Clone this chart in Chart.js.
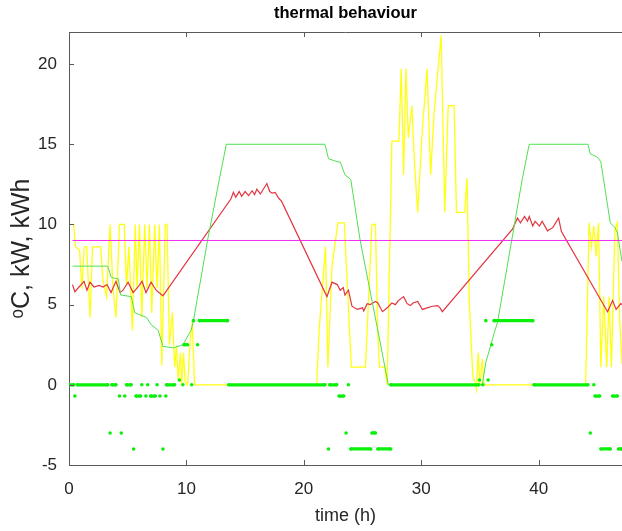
<!DOCTYPE html>
<html>
<head>
<meta charset="utf-8">
<title>thermal behaviour</title>
<script src="https://cdn.jsdelivr.net/npm/chart.js@4.4.0/dist/chart.umd.min.js"></script>
<style>
  html, body { margin: 0; padding: 0; background: #fff; }
  #wrap { width: 622px; height: 531px; }
</style>
</head>
<body>
<div id="wrap"><canvas id="chart" width="622" height="531"></canvas></div>
<script>
// axis ticks
const xTicks = [0, 10, 20, 30, 40];
const yTicks = [-5, 0, 5, 10, 15, 20];

// yellow: [time h, kW]
const heatPower = [
  [0.25, 10], [0.4, 10], [0.55, 8.6], [0.9, 8.4], [1.1, 6.0], [1.3, 8.6], [1.5, 8.6], [1.8, 4.2],
  [2.0, 8.6], [2.7, 8.6], [2.9, 6.5], [3.2, 5.5], [3.5, 10], [3.75, 6.0], [4.0, 4.2], [4.3, 10],
  [4.7, 10], [4.9, 6.2], [5.1, 8.6], [5.4, 3.4], [5.65, 10], [5.8, 6.0], [6.0, 10], [6.2, 4.2],
  [6.45, 10], [6.65, 6.0], [6.85, 10], [7.05, 4.5], [7.3, 10], [7.5, 6.0], [7.7, 10], [7.9, 1.2],
  [8.2, 10], [8.35, 10], [8.55, 2.5], [8.8, 4.5], [9.0, 1.1], [9.15, 2.4], [9.3, 0.3], [9.5, 2.0],
  [9.6, 0], [9.75, 2.0], [9.9, 0.2], [10.1, 0], [10.35, 3.0], [10.5, 3.9], [10.7, 0],
  [21.1, 0], [21.3, 3.4], [21.85, 8.6], [22.05, 1.1], [22.4, 7.4], [22.9, 10.1], [23.45, 10.1],
  [24.05, 1.1], [25.25, 1.1], [25.8, 10], [26.1, 10], [26.3, 3.2], [26.45, 1.1], [26.9, 1.1],
  [27.1, 0], [27.5, 15.2], [28.1, 15.2], [28.3, 19.7], [28.5, 13.1], [28.7, 19.7], [28.9, 15.4],
  [29.2, 17.4], [29.45, 13.5], [29.7, 10.75], [30.1, 16], [30.5, 19.7], [30.8, 13.1], [31.1, 17],
  [31.7, 21.8], [32.0, 10.75], [32.3, 17.4], [32.8, 17.4], [33.0, 10.75], [33.7, 10.75], [33.9, 12.9],
  [34.1, 5], [34.4, 0.5], [34.6, 0.1], [34.7, -0.3], [34.85, 2.0], [35.0, 0], [35.2, 1.6], [35.35, 0],
  [44.0, 0], [44.3, 10.1], [44.5, 8.6], [44.7, 9.9], [44.9, 8.0], [45.1, 10.1], [45.3, 1.1],
  [45.55, 5.5], [45.8, 1.1], [46.0, 5.5], [46.2, 1.1], [46.5, 9.7], [46.7, 10.1], [46.9, 4.0], [47.1, 1.3]
];

// red: [time h, oC]
const roomTemp = [
  [0.3, 6.25], [0.5, 5.8], [0.85, 6.1], [1.28, 6.45], [1.53, 5.9], [1.79, 6.4], [2.13, 6.1], [2.56, 6.2],
  [2.9, 6.1], [3.24, 6.25], [3.58, 5.75], [4.0, 6.45], [4.35, 5.75], [4.6, 5.9], [5.03, 6.4], [5.46, 5.75],
  [5.88, 6.1], [6.22, 6.45], [6.56, 5.75], [6.99, 6.4], [7.42, 5.9], [8.0, 5.55],
  [13.8, 11.6], [14.0, 12.0], [14.2, 11.7], [14.5, 12.05], [14.7, 11.75], [15.0, 12.05], [15.3, 11.8],
  [15.6, 12.1], [15.8, 11.85], [16.0, 12.2], [16.3, 11.9], [16.85, 12.55], [17.1, 12.05], [17.3, 11.95],
  [17.56, 12.0], [17.9, 11.6], [18.1, 11.45],
  [21.97, 5.5], [22.4, 6.4], [22.85, 6.25], [23.1, 5.9], [23.36, 6.06], [23.5, 5.6], [23.8, 5.9],
  [24.1, 4.9], [24.55, 4.7], [25.0, 4.8], [25.1, 4.6], [25.4, 5.06], [25.66, 5.0], [26.1, 5.2],
  [26.3, 5.1], [26.7, 4.56], [27.1, 4.8], [27.5, 5.1], [27.8, 5.0], [28.05, 5.25], [28.5, 5.5],
  [28.8, 5.06], [29.07, 4.94], [29.3, 5.1], [29.7, 5.2], [30.1, 4.7], [30.5, 4.8], [30.95, 4.9],
  [31.4, 4.94], [31.6, 4.8], [31.8, 4.56],
  [37.77, 9.7], [38.2, 10.4], [38.45, 10.1], [38.8, 10.5], [39.05, 10.2], [39.2, 10.5], [39.5, 9.9],
  [39.7, 10.2], [40.07, 9.9], [40.3, 10.2], [40.75, 9.6], [41.2, 9.8], [41.7, 10.4], [41.94, 9.56],
  [45.87, 4.56], [46.3, 5.25], [46.6, 4.7], [47.0, 5.06], [47.1, 5.0]
];

// green line: [time h, kWh]
const storage = [
  [0.3, 7.4], [3.3, 7.4], [3.6, 6.7], [4.2, 6.6], [4.4, 5.6], [5.3, 5.5], [5.6, 4.5], [6.6, 4.2],
  [7.0, 3.75], [7.6, 3.4], [8.0, 2.4], [8.9, 2.3], [9.7, 2.5], [10.4, 3.4], [10.6, 4.0], [11.8, 9.0],
  [12.8, 12.8], [13.4, 15], [21.8, 15], [22.1, 14.1], [22.9, 13.9], [23.1, 13.9], [23.5, 13.1],
  [24.0, 12.8], [24.8, 9.0], [26.3, 3.4], [27.2, 0], [35.2, 0], [35.5, 1.4], [35.9, 2.4], [36.2, 3.2],
  [36.5, 3.9], [38.6, 12.8], [39.2, 15], [44.2, 15], [44.4, 14.4], [45.0, 14.2], [45.3, 13.9],
  [46.1, 10.1], [46.5, 9.8], [46.7, 9.5], [47.1, 7.7]
];

// magenta: setpoint
const setpoint = [[0.3, 9], [47.1, 9]];

// green dots: [from h, to h, level]
const pumpRuns = [
  [0, 0.4, 0], [0.7, 3.3, 0], [3.65, 4.0, 0], [4.9, 5.3, 0], [6.2, 6.2, 0], [6.7, 6.7, 0], [7.5, 7.5, 0],
  [8.3, 9.0, 0], [9.7, 9.7, 0], [10.45, 10.45, 0], [13.6, 21.8, 0], [22.2, 22.8, 0], [23.8, 23.8, 0],
  [27.4, 34.9, 0], [35.25, 35.25, 0], [39.6, 44.2, 0], [44.7, 44.7, 0],
  [0.5, 0.5, -0.7], [4.3, 4.3, -0.7], [4.75, 4.75, -0.7], [5.7, 6.1, -0.7], [6.55, 6.55, -0.7],
  [6.95, 7.35, -0.7], [7.75, 7.75, -0.7], [8.25, 8.25, -0.7], [23.0, 23.4, -0.7], [44.8, 45.2, -0.7],
  [46.3, 46.7, -0.7],
  [3.5, 3.5, -3], [4.45, 4.45, -3], [23.6, 23.6, -3], [25.8, 26.1, -3], [44.4, 44.4, -3],
  [5.5, 5.5, -4], [8.0, 8.0, -4], [22.1, 22.1, -4], [24.0, 25.7, -4], [26.3, 27.4, -4],
  [45.3, 46.1, -4], [46.8, 47.1, -4],
  [9.4, 9.4, 0.3], [34.95, 34.95, 0.3], [35.7, 35.7, 0.3],
  [9.8, 10.1, 2.5], [10.95, 10.95, 2.5], [36.0, 36.0, 2.5],
  [10.6, 10.6, 4], [11.1, 13.5, 4], [35.5, 35.5, 4], [36.2, 39.5, 4]
];

const axisColor = '#5a5a5a';
const textColor = '#262626';
const fontFamily = '"Liberation Sans", Arial, Helvetica, sans-serif';

const toXY = arr => arr.map(p => ({ x: p[0], y: p[1] }));

function runsToXY(runs) {
  const out = [];
  runs.forEach(r => {
    out.push({ x: r[0], y: r[2] });
    if (r[1] !== r[0]) out.push({ x: r[1], y: r[2] });
    out.push({ x: r[1], y: null });
  });
  return out;
}

function lineSet(data, color, order, width) {
  return {
    data: toXY(data),
    borderColor: color,
    backgroundColor: color,
    borderWidth: width || 1,
    pointRadius: 0,
    showLine: true,
    fill: false,
    tension: 0,
    order: order
  };
}

// top border and inward tick marks, like a matlab axes box
const axesBox = {
  id: 'axesBox',
  afterDatasetsDraw(chart) {
    const { ctx, chartArea: a, scales } = chart;
    ctx.save();
    ctx.strokeStyle = axisColor;
    ctx.lineWidth = 1;
    ctx.beginPath();
    ctx.moveTo(a.left, a.top + 0.5);
    ctx.lineTo(a.right, a.top + 0.5);
    xTicks.forEach(v => {
      const px = Math.round(scales.x.getPixelForValue(v)) + 0.5;
      ctx.moveTo(px, a.bottom);
      ctx.lineTo(px, a.bottom - 5);
      ctx.moveTo(px, a.top);
      ctx.lineTo(px, a.top + 5);
    });
    yTicks.forEach(v => {
      const py = Math.round(scales.y.getPixelForValue(v)) + 0.5;
      ctx.moveTo(a.left, py);
      ctx.lineTo(a.left + 5, py);
    });
    ctx.stroke();
    ctx.restore();
  }
};

const ctx = document.getElementById('chart').getContext('2d');

new Chart(ctx, {
  type: 'scatter',
  data: {
    datasets: [
      {
        data: runsToXY(pumpRuns),
        borderColor: '#0af00a',
        backgroundColor: '#0af00a',
        borderWidth: 3.2,
        borderCapStyle: 'butt',
        pointRadius: 1.8,
        pointBorderWidth: 0,
        showLine: true,
        spanGaps: false,
        order: 0
      },
      lineSet(setpoint, '#f02cf0', 1),
      lineSet(storage, '#4fe04f', 2),
      lineSet(roomTemp, '#e3343f', 3, 1.2),
      lineSet(heatPower, '#ffff10', 4, 1.3)
    ]
  },
  options: {
    responsive: false,
    animation: false,
    layout: { padding: 0, autoPadding: false },
    plugins: {
      legend: { display: false },
      tooltip: { enabled: false },
      title: {
        display: true,
        text: 'thermal behaviour',
        fullSize: false,
        color: '#000',
        font: { family: fontFamily, size: 16.5, weight: 'bold' },
        padding: { top: 4, bottom: 8.2 }
      }
    },
    scales: {
      x: {
        type: 'linear',
        min: 0,
        max: 47.1,
        afterBuildTicks: s => { s.ticks = xTicks.map(v => ({ value: v })); },
        afterFit: s => { s.height = 66; },
        grid: { display: false, drawTicks: false },
        border: { display: true, color: axisColor, width: 1 },
        ticks: {
          color: textColor,
          padding: 14,
          maxRotation: 0,
          font: { family: fontFamily, size: 17 }
        },
        title: {
          display: true,
          text: 'time (h)',
          color: textColor,
          font: { family: fontFamily, size: 18 },
          padding: { top: 0, bottom: 4 }
        }
      },
      y: {
        type: 'linear',
        min: -5,
        max: 22,
        afterBuildTicks: s => { s.ticks = yTicks.map(v => ({ value: v })); },
        afterFit: s => { s.width = 69; },
        grid: { display: false, drawTicks: false },
        border: { display: true, color: axisColor, width: 1 },
        ticks: {
          color: textColor,
          padding: 12,
          font: { family: fontFamily, size: 17 }
        },
        title: {
          display: true,
          text: 'ᵒC, kW, kWh',
          color: textColor,
          font: { family: fontFamily, size: 25 },
          padding: { top: 7, bottom: 0 }
        }
      }
    }
  },
  plugins: [axesBox]
});
</script>
</body>
</html>
